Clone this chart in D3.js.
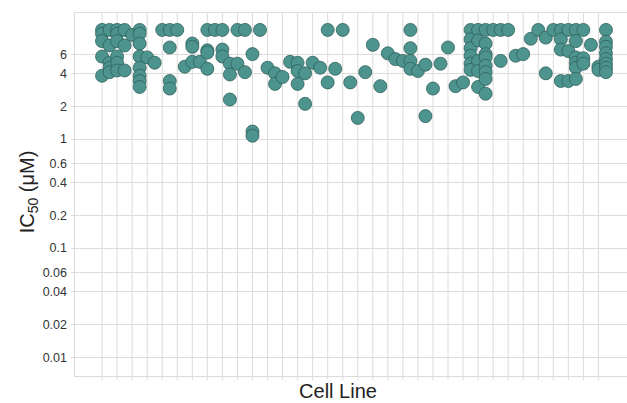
<!DOCTYPE html>
<html>
<head>
<meta charset="utf-8">
<script src="https://cdn.jsdelivr.net/npm/d3@7"></script>
<style>
  body { margin: 0; background: #fff; }
  text { font-family: "Liberation Sans", Arial, sans-serif; }
</style>
</head>
<body>
<script>
// one entry per cell line; values are IC50 in uM
var cellLines = d3.range(68).map(function(i){ return "CL" + (i + 1); });

var ic50 = [
  [10, 9.2, 7.9, 5.7, 3.8],
  [10, 7.2, 5.0, 4.5, 4.1],
  [10, 9.2, 7.9, 5.7, 5.0, 4.25],
  [10, 7.2, 4.25],
  [9.0],
  [10, 9.2, 7.5, 5.7, 4.5, 3.8, 3.4, 3.0],
  [5.6],
  [5.0],
  [10],
  [10, 6.9, 3.4, 2.9],
  [10],
  [4.6],
  [7.5, 7.0, 5.1],
  [5.1],
  [10, 6.5, 6.2, 4.4],
  [10],
  [10, 6.6, 5.7],
  [4.9, 3.9, 2.3],
  [10, 4.9],
  [10, 4.1],
  [6.0, 1.17, 1.07],
  [10],
  [4.5],
  [4.0, 3.2],
  [3.7],
  [5.1],
  [5.0, 4.2, 3.2],
  [4.0, 2.1],
  [5.0],
  [4.5],
  [10, 3.3],
  [4.4],
  [10],
  [3.3],
  [1.56],
  [4.1],
  [7.3],
  [3.05],
  [6.1],
  [5.4],
  [5.2],
  [10, 6.8, 5.2, 4.4],
  [4.2],
  [4.8, 1.62],
  [2.9],
  [4.9],
  [6.9],
  [3.05],
  [3.3],
  [10, 8.2, 6.8, 5.8, 4.9, 4.3],
  [10, 8.0, 5.2, 4.2, 3.0],
  [10, 7.5, 6.0, 5.6, 4.7, 4.1, 3.55, 2.6],
  [10],
  [10, 5.2],
  [10],
  [5.8],
  [6.0],
  [8.3],
  [10],
  [8.5, 4.0],
  [10],
  [10, 8.2, 6.6, 3.4],
  [10, 6.4, 3.4],
  [10, 7.9, 5.6, 5.0, 4.5, 3.55],
  [10, 5.5, 4.9],
  [7.3],
  [4.6, 4.3],
  [10, 7.8, 7.0, 6.1, 5.4, 4.9, 4.5, 4.1]
];

var yTicks = [0.01, 0.02, 0.04, 0.06, 0.1, 0.2, 0.4, 0.6, 1, 2, 4, 6];
var yTickLabels = ["0.01", "0.02", "0.04", "0.06", "0.1", "0.2", "0.4", "0.6", "1", "2", "4", "6"];

var w = 627, h = 403;
var pLeft = 74, pTop = 12, pRight = 634, pBottom = 376;

var points = [];
cellLines.forEach(function(c, i){
  ic50[i].forEach(function(v){ points.push({cell: c, value: v}); });
});

var svg = d3.select("body").append("svg").attr("width", w).attr("height", h);

var xScale = d3.scalePoint().domain(cellLines).range([pLeft, pRight]).padding(3.73);
var yScale = d3.scaleLog().domain([0.0067, 14.6]).range([pBottom, pTop]);

// every other cell line gets a grid line
var gridCells = cellLines.filter(function(d, i){ return i % 2 === 0; });

svg.append("g").selectAll("line")
  .data(gridCells)
  .enter().append("line")
  .attr("x1", function(d){ return xScale(d); })
  .attr("x2", function(d){ return xScale(d); })
  .attr("y1", pTop)
  .attr("y2", pBottom + 4)
  .attr("stroke", "#dcdcdc")
  .attr("stroke-width", 1);

svg.append("g").selectAll("line")
  .data(yTicks)
  .enter().append("line")
  .attr("x1", pLeft - 3)
  .attr("x2", pRight)
  .attr("y1", function(d){ return Math.round(yScale(d)) + 0.5; })
  .attr("y2", function(d){ return Math.round(yScale(d)) + 0.5; })
  .attr("stroke", "#dcdcdc")
  .attr("stroke-width", 1);

svg.append("rect")
  .attr("x", pLeft + 0.5).attr("y", pTop + 0.5)
  .attr("width", pRight - pLeft).attr("height", pBottom - pTop)
  .attr("fill", "none")
  .attr("stroke", "#dcdcdc");

svg.append("g").selectAll("text")
  .data(yTicks)
  .enter().append("text")
  .attr("x", pLeft - 7)
  .attr("y", function(d){ return yScale(d); })
  .attr("dy", "0.36em")
  .attr("text-anchor", "end")
  .attr("font-size", "12.5px")
  .attr("fill", "#333")
  .text(function(d, i){ return yTickLabels[i]; });

svg.append("g").selectAll("circle")
  .data(points)
  .enter().append("circle")
  .attr("cx", function(d){ return xScale(d.cell); })
  .attr("cy", function(d){ return yScale(d.value); })
  .attr("r", 6.5)
  .attr("fill", "#4d948f")
  .attr("stroke", "#2e5f5b")
  .attr("stroke-width", 0.8);

// axis titles
svg.append("text")
  .attr("x", 338)
  .attr("y", 398)
  .attr("text-anchor", "middle")
  .attr("font-size", "20px")
  .attr("fill", "#222")
  .text("Cell Line");

var yt = svg.append("text")
  .attr("transform", "translate(34," + ((pTop + pBottom) / 2 - 2) + ") rotate(-90)")
  .attr("text-anchor", "middle")
  .attr("font-size", "20px")
  .attr("fill", "#222");
yt.append("tspan").text("IC");
yt.append("tspan").attr("font-size", "14px").attr("dy", "4").text("50");
yt.append("tspan").attr("dy", "-4").text(" (\u03bcM)");
</script>
</body>
</html>
